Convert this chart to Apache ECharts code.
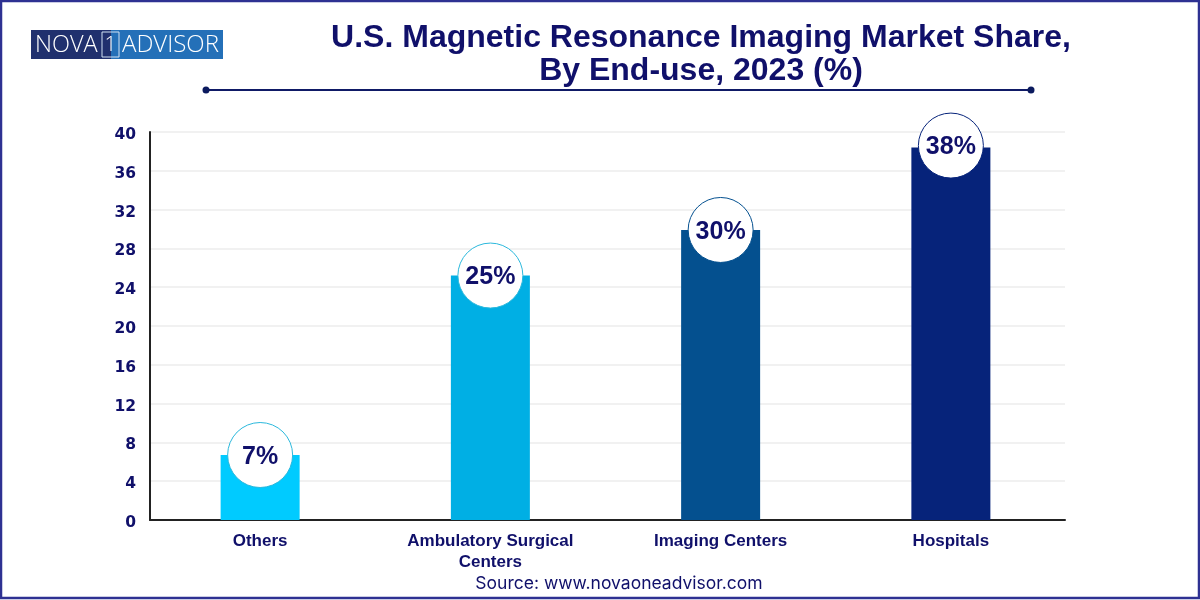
<!DOCTYPE html>
<html lang="en">
<head>
	<meta charset="UTF-8">
	<title>U.S. MRI Market Share</title>
	<style>
		html,body{margin:0;padding:0;background:#fff;}
		#main{width:1200px;height:600px;}
	</style>
	<script src="https://cdn.jsdelivr.net/npm/echarts@6/dist/echarts.min.js"></script>
</head>
<body>
	<div id="main"></div>
	<script>
		var categories = ['Others', 'Ambulatory Surgical\nCenters', 'Imaging Centers', 'Hospitals'];
		var shares = [6.7, 25.2, 29.9, 38.4];
		var bubbleLevels = [6.7, 25.2, 29.9, 38.6];
		var shareLabels = ['7%', '25%', '30%', '38%'];
		var barColors = ['#00cbff', '#00afe4', '#04508f', '#06237a'];
		var ringColors = ['#2bb8dc', '#2bb8dc', '#04508f', '#06237a'];
		var yTicks = [0, 4, 8, 12, 16, 20, 24, 28, 32, 36, 40];

		var navy = '#10106a';
		var myChart = echarts.init(document.getElementById('main'));

		var option = {
			animation: false,
			title: {
				text: 'U.S. Magnetic Resonance Imaging Market Share,\nBy End-use, 2023 (%)',
				left: 696,
				top: 17,
				textAlign: 'center',
				textStyle: {
					color: navy,
					fontFamily: 'Liberation Sans',
					fontWeight: 'bold',
					fontSize: 32,
					lineHeight: 33
				}
			},
			// first grid holds the axes and gridlines, second one the bars
			grid: [
				{left: 150, right: 135, top: 132, height: 388},
				{left: 145, right: 134, top: 132, height: 388}
			],
			xAxis: [
				{
					type: 'category',
					gridIndex: 0,
					data: categories,
					axisTick: {show: false},
					axisLabel: {show: false},
					axisLine: {lineStyle: {color: '#222', width: 2}},
					splitLine: {show: false}
				},
				{
					type: 'category',
					gridIndex: 1,
					data: categories,
					axisTick: {show: false},
					axisLine: {show: false},
					axisLabel: {
						color: navy,
						fontFamily: 'Liberation Sans',
						fontWeight: 'bold',
						fontSize: 17,
						lineHeight: 21,
						margin: 11,
						interval: 0
					}
				}
			],
			yAxis: [
				{
					type: 'value',
					gridIndex: 0,
					min: 0,
					max: yTicks[yTicks.length - 1],
					interval: yTicks[1] - yTicks[0],
					axisLine: {show: true, lineStyle: {color: '#222', width: 2}},
					axisTick: {show: false},
					axisLabel: {
						margin: 14,
						formatter: '{t|{value}}',
						rich: {
							t: {
								color: navy,
								fontFamily: 'DejaVu Sans',
								fontWeight: 'bold',
								fontSize: 15.5,
								padding: [6, 0, 0, 0]
							}
						}
					},
					splitLine: {lineStyle: {color: '#f1f1f1', width: 2}}
				},
				{
					type: 'value',
					gridIndex: 1,
					min: 0,
					max: yTicks[yTicks.length - 1],
					show: false
				}
			],
			series: [
				{
					type: 'bar',
					xAxisIndex: 1,
					yAxisIndex: 1,
					barWidth: 79,
					data: shares.map(function (v, i) {
						return {value: v, itemStyle: {color: barColors[i]}};
					})
				},
				{
					type: 'scatter',
					xAxisIndex: 1,
					yAxisIndex: 1,
					symbolSize: 65,
					z: 5,
					data: bubbleLevels.map(function (v, i) {
						return {
							value: [i, v],
							itemStyle: {color: '#fff', opacity: 1, borderColor: ringColors[i], borderWidth: 1},
							label: {
								show: true,
								position: 'inside',
								offset: [0, 2],
								formatter: shareLabels[i],
								color: navy,
								fontFamily: 'Liberation Sans',
								fontWeight: 'bold',
								fontSize: 25
							}
						};
					})
				}
			],
			graphic: [
				{type: 'rect', shape: {x: 1, y: 1, width: 1198, height: 597}, style: {fill: 'none', stroke: '#2e3192', lineWidth: 2.5}},
				{type: 'rect', shape: {x: 31, y: 30, width: 80, height: 29}, style: {fill: '#20306e'}},
				{type: 'rect', shape: {x: 111, y: 30, width: 112, height: 29}, style: {fill: '#2470b8'}},
				{type: 'rect', shape: {x: 102, y: 32, width: 17, height: 25}, style: {fill: 'none', stroke: '#cfe0f2', lineWidth: 1}},
				{type: 'text', x: 35, y: 45, style: {text: 'NOVA', fill: '#fff', font: '300 23.5px "Open Sans"', textVerticalAlign: 'middle'}},
				{type: 'text', x: 110.5, y: 45, style: {text: '1', fill: '#fff', font: '300 21px "Open Sans"', textAlign: 'center', textVerticalAlign: 'middle'}},
				{type: 'text', x: 122, y: 45, style: {text: 'ADVISOR', fill: '#fff', font: '300 24px "Open Sans"', textVerticalAlign: 'middle'}},
				{type: 'line', shape: {x1: 206, y1: 90, x2: 1031, y2: 90}, style: {stroke: '#0f1a66', lineWidth: 2}},
				{type: 'circle', shape: {cx: 206, cy: 90, r: 3.5}, style: {fill: '#0b1a5e'}},
				{type: 'circle', shape: {cx: 1031, cy: 90, r: 3.5}, style: {fill: '#0b1a5e'}},
				{type: 'text', x: 619, y: 584, style: {text: 'Source: www.novaoneadvisor.com', fill: navy, font: '17.5px "Inter"', textAlign: 'center', textVerticalAlign: 'middle'}}
			]
		};
		myChart.setOption(option);
	</script>
</body>
</html>
